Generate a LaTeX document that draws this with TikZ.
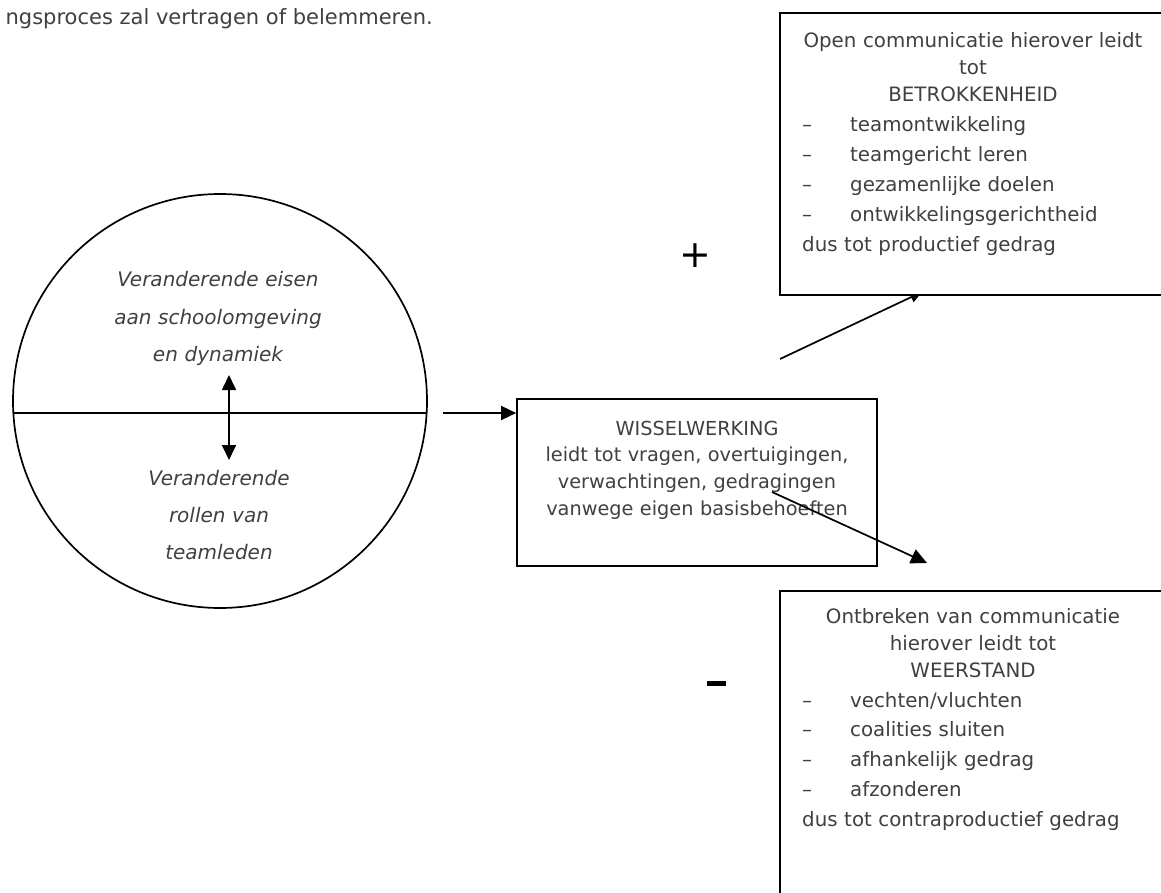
\documentclass[tikz,border=0pt]{standalone}
\usepackage{fontspec}
\setmainfont{DejaVu Sans}
\usetikzlibrary{arrows.meta,calc}
\begin{document}
\begin{tikzpicture}[x=1pt,y=-1pt,
  line/.style={line width=1.7pt, draw=black},
  arr/.style={line, -{Triangle[length=15pt,width=14pt]}},
  dblarr/.style={line, {Triangle[length=15pt,width=14pt]}-{Triangle[length=15pt,width=14pt]}},
  boxshape/.style={draw=black, line width=1.7pt, fill=white, rectangle, inner sep=0pt},
  txt/.style={text=black!75, inner sep=0pt},
  bigtxt/.style={txt, font=\fontsize{19.8}{27}\selectfont},
  listtxt/.style={txt, font=\fontsize{19.8}{29.8}\selectfont, text width=380pt, align=left},
  midtxt/.style={txt, font=\fontsize{19.3}{26.7}\selectfont, text width=380pt, align=center},
  circtxt/.style={txt, font=\fontsize{20}{37.3}\selectfont\itshape, text width=320pt, align=center},
  sign/.style={inner sep=0pt, text=black}
]
\useasboundingbox (0,0) rectangle (1161,893);

% top partial sentence
\node[txt, font=\fontsize{21}{24}\selectfont, anchor=base east] (toptext) at (433,25) {ngsproces zal vertragen of belemmeren.};

% circle
\node[circle, draw=black, line width=1.7pt, minimum size=414pt, inner sep=0pt] (circ) at (220,401) {};
\draw[line] ($(circ.center)+(-206.6,12)$) -- ($(circ.center)+(206.6,12)$);
\node[circtxt, anchor=base] (ctop) at (218,287) {Veranderende eisen\\aan schoolomgeving\\en dynamiek};
\node[circtxt, anchor=base] (cbot) at (219,485) {Veranderende\\rollen van\\teamleden};
\coordinate (da1) at (229,375);
\coordinate (da2) at (229,460);
\draw[dblarr] (da1) -- (da2);

% middle box
\node[boxshape, minimum width=360pt, minimum height=167pt] (wb) at (697,482.5) {};
\node[midtxt, anchor=base] (wtext) at (697,435) {WISSELWERKING\\leidt tot vragen, overtuigingen,\\verwachtingen, gedragingen\\vanwege eigen basisbehoeften};
\coordinate (a1) at (443,413);
\draw[arr] (a1) -- (a1 -| wb.west);

% arrow to top box (drawn before box)
\coordinate (p1) at (780,359);
\coordinate (p2) at (922,292);
\draw[line, -{Triangle[length=12pt,width=11pt]}] (p1) -- (p2);

% top box
\node[boxshape, minimum width=386pt, minimum height=282pt] (ta) at (973,154) {};
\node[bigtxt, anchor=base, text width=380pt, align=center] (tahead) at (973,48) {Open communicatie hierover leidt\\tot\\BETROKKENHEID};
\node[listtxt, anchor=base west] (talist) at (802,132) {\makebox[48pt][l]{–}teamontwikkeling\\\makebox[48pt][l]{–}teamgericht leren\\\makebox[48pt][l]{–}gezamenlijke doelen\\\makebox[48pt][l]{–}ontwikkelingsgerichtheid\\dus tot productief gedrag};
\node[sign, font=\fontsize{38}{38}\selectfont] (plus) at (695,256) {+};

% arrow to bottom box
\coordinate (b1) at (772,492);
\coordinate (b2) at (927,563);
\draw[line, -{Triangle[length=16pt,width=15pt]}] (b1) -- (b2);

% bottom box
\node[boxshape, minimum width=386pt, minimum height=330pt] (tb) at (973,756) {};
\node[bigtxt, anchor=base, text width=380pt, align=center] (tbhead) at (973,623) {Ontbreken van communicatie\\hierover leidt tot\\WEERSTAND};
\node[listtxt, anchor=base west] (tblist) at (802,707) {\makebox[48pt][l]{–}vechten/vluchten\\\makebox[48pt][l]{–}coalities sluiten\\\makebox[48pt][l]{–}afhankelijk gedrag\\\makebox[48pt][l]{–}afzonderen\\dus tot contraproductief gedrag};
\node[sign, fill=black, minimum width=19pt, minimum height=5pt] (minus) at (716.5,683.5) {};
\end{tikzpicture}
\end{document}
